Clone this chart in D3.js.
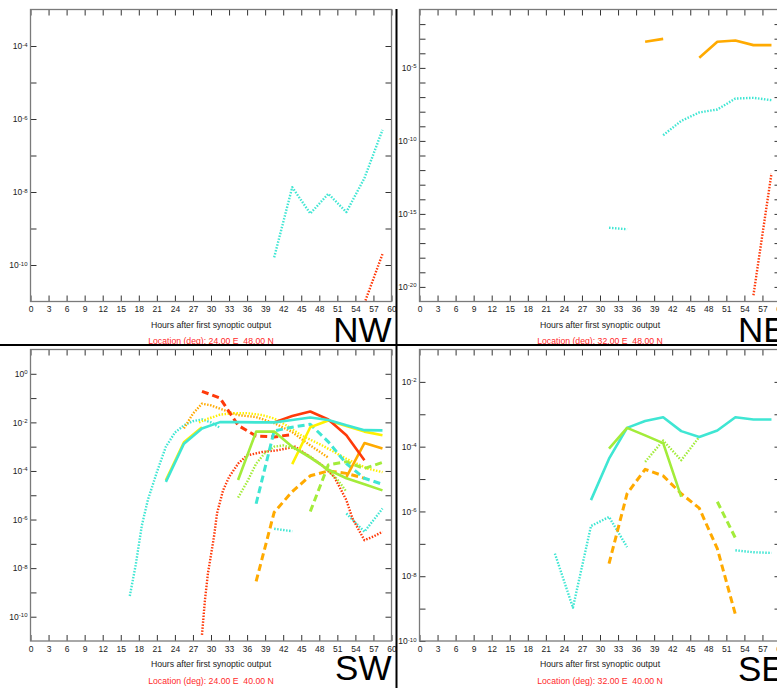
<!DOCTYPE html>
<html><head><meta charset="utf-8">
<script src="https://cdn.jsdelivr.net/npm/d3@7/dist/d3.min.js"></script>
<style>body{margin:0;background:#fff}svg{display:block}</style>
</head><body>
<svg id="chart" width="777" height="688"></svg>
<script>
// ---------- colours ----------
const CYAN = '#3fe6d3', YGREEN = '#a3ec3a', YELLOW = '#fff000', ORANGE = '#ffaa00', RED = '#ff3a0a';

// ---------- tick labels ----------
const xTickLabels = [0,3,6,9,12,15,18,21,24,27,30,33,36,39,42,45,48,51,54,57,60];
const nwYLabelExp = [-4,-6,-8,-10];
const neYLabelExp = [-5,-10,-15,-20];
const swYLabelExp = [0,-2,-4,-6,-8,-10];
const seYLabelExp = [-2,-4,-6,-8,-10];
const xTitle = 'Hours after first synoptic output';

// ---------- data: [hour, log10(value)] ----------
// NW
const nwCyanDotted = [[40.5,-9.79],[43.5,-7.87],[46.5,-8.59],[49.5,-8.05],[52.5,-8.55],[55.5,-7.62],[58.5,-6.30]];
const nwRedDotted = [[55.5,-11.05],[58.5,-9.70]];
// NE
const neOrangeSolidA = [[37.5,-3.21],[40.5,-3.01]];
const neOrangeSolidB = [[46.5,-4.31],[49.5,-3.21],[52.5,-3.12],[55.5,-3.44],[58.5,-3.44]];
const neCyanDottedA = [[31.5,-15.95],[34.5,-16.05]];
const neCyanDottedB = [[40.5,-9.61],[43.5,-8.63],[46.5,-8.05],[49.5,-7.85],[52.5,-7.10],[55.5,-7.05],[58.5,-7.21]];
const neRedDotted = [[55.5,-20.57],[58.5,-12.23]];
// SW
const swCyanDottedA = [[16.5,-9.15],[17.5,-7.85],[18.5,-6.25],[19.5,-5.2],[21,-4.05],[22.5,-3.0],[24,-2.42],[25.5,-2.12],[27,-1.95],[28.5,-1.88],[30,-2.0],[31.5,-2.22]];
const swCyanDottedB = [[40.5,-6.38],[43.5,-6.48]];
const swCyanDottedC = [[52.5,-5.75],[55.5,-6.5],[58.5,-5.55]];
const swRedDotted = [[28.5,-10.75],[29,-9.3],[29.5,-8.2],[30,-7.45],[30.5,-6.7],[31,-5.75],[32,-4.8],[33,-4.25],[34.5,-3.7],[36,-3.36],[38.5,-3.22],[41,-3.15],[44,-3.0],[46,-3.35],[48.5,-3.77],[50.5,-4.25],[52.5,-5.2],[53.5,-5.95],[55.5,-6.85],[57,-6.7],[58.5,-6.5]];
const swOrangeDotted = [[25.5,-2.25],[27,-1.64],[28.5,-1.23],[30,-1.3],[31.5,-1.44],[33,-1.57],[34.5,-1.7],[37.5,-1.78],[40.5,-2.03],[43.5,-2.4],[46.5,-2.95],[49.5,-3.45]];
const swYellowDotted = [[28,-2.0],[29.5,-1.85],[31.5,-1.68],[33.5,-1.63],[36,-1.62],[38.5,-1.7],[40.5,-1.84],[42.5,-2.12],[45,-2.53],[48.5,-2.95],[52.5,-3.5],[56,-3.9],[58.5,-4.05]];
const swYGreenDotted = [[34.5,-5.1],[36,-4.45],[37.5,-3.7],[39,-3.25],[40.5,-3.0],[42,-2.95],[43.5,-3.05],[45,-3.2],[46.5,-3.4],[48,-3.68],[49.5,-4.0],[51,-4.35],[52.5,-4.85]];
const swRedDashed = [[28.5,-0.72],[31.5,-1.0],[34.5,-2.12],[37.5,-2.56],[40.5,-2.6],[43.5,-2.5]];
const swOrangeDashed = [[37.5,-8.55],[40.5,-5.7],[43.5,-4.85],[46.5,-4.2],[49.5,-4.0],[52.5,-4.1],[55.5,-4.3]];
const swYGreenDashed = [[46.5,-5.67],[49.5,-3.75],[52.5,-3.62],[55.5,-3.9],[58.5,-3.65]];
const swCyanDashed = [[37.5,-5.35],[40.5,-2.35],[43.5,-2.2],[46.5,-2.08],[49.5,-2.8],[52.5,-3.7],[55.5,-4.3],[58.5,-4.55]];
const swRedSolid = [[40.5,-2.0],[43.5,-1.74],[46.5,-1.55],[49.5,-1.88],[52.5,-2.53],[55.5,-3.56]];
const swOrangeSolid = [[52.5,-4.25],[55.5,-2.85],[58.5,-3.08]];
const swYellowSolidA = [[22.5,-4.38],[25.5,-2.82],[28.5,-2.2]];
const swYellowSolidB = [[43.5,-3.72],[46.5,-2.2],[49.5,-1.92],[52.5,-2.15],[55.5,-2.38],[58.5,-2.53]];
const swYGreenSolid = [[34.5,-4.37],[37.5,-2.38],[40.5,-2.38],[43.5,-3.0],[46.5,-3.45],[49.5,-3.95],[52.5,-4.3],[55.5,-4.55],[58.5,-4.8]];
const swCyanSolid = [[22.5,-4.45],[25.5,-2.88],[28.5,-2.25],[31.5,-1.99],[34.5,-1.99],[37.5,-2.0],[40.5,-2.0],[43.5,-1.9],[46.5,-1.8],[49.5,-1.9],[52.5,-2.12],[55.5,-2.32],[58.5,-2.33]];
// SE
const seCyanDottedA = [[22.5,-7.30],[25.5,-8.97],[28.5,-6.45],[31.5,-6.17],[34.5,-7.1]];
const seCyanDottedB = [[52.5,-7.2],[55.5,-7.26],[58.5,-7.28]];
const seYGreenDotted = [[37.5,-4.47],[40.5,-3.81],[43.5,-4.42],[46.5,-3.70]];
const seOrangeDashed = [[31.5,-7.61],[34.5,-5.45],[37.5,-4.7],[40.5,-4.9],[43.5,-5.45],[46.5,-5.9],[49.5,-7.15],[52.5,-9.18]];
const seYGreenDashed = [[49.5,-5.70],[52.5,-6.82]];
const seCyanSolid = [[28.5,-5.65],[31.5,-4.37],[34.5,-3.42],[37.5,-3.21],[40.5,-3.09],[43.5,-3.52],[46.5,-3.70],[49.5,-3.50],[52.5,-3.09],[55.5,-3.16],[58.5,-3.16]];
const seYGreenSolid = [[31.5,-4.06],[34.5,-3.42],[37.5,-3.65],[40.5,-3.89],[43.5,-5.55]];

// ---------- panels ----------
const panels = [
  {id:'nw', tag:'NW', left:30.5, top:9.5, bottom:301.5, yMin:-11, yMax:-3, labels:nwYLabelExp,
   loc:'Location (deg): 24.00 E  48.00 N', tagX:391.5, tagY:341.5, tagAnchor:'end',
   series:[[nwCyanDotted,CYAN,'dot'],[nwRedDotted,RED,'dot']]},
  {id:'ne', tag:'NE', left:419.5, top:9.5, bottom:301.5, yMin:-21, yMax:-1, labels:neYLabelExp,
   loc:'Location (deg): 32.00 E  48.00 N', tagX:738, tagY:341.5, tagAnchor:'start',
   series:[[neCyanDottedA,CYAN,'dot'],[neCyanDottedB,CYAN,'dot'],[neRedDotted,RED,'dot'],
           [neOrangeSolidA,ORANGE,'solid'],[neOrangeSolidB,ORANGE,'solid']]},
  {id:'sw', tag:'SW', left:30.5, top:349.5, bottom:641, yMin:-11, yMax:1, labels:swYLabelExp,
   loc:'Location (deg): 24.00 E  40.00 N', tagX:391.5, tagY:679.5, tagAnchor:'end',
   series:[[swCyanDottedA,CYAN,'dot'],[swCyanDottedB,CYAN,'dot'],[swCyanDottedC,CYAN,'dot'],
           [swRedDotted,RED,'dot'],[swOrangeDotted,ORANGE,'dot'],[swYellowDotted,YELLOW,'dot'],[swYGreenDotted,YGREEN,'dot'],
           [swRedDashed,RED,'dash'],[swOrangeDashed,ORANGE,'dash'],[swYGreenDashed,YGREEN,'dash'],[swCyanDashed,CYAN,'dash'],
           [swYellowSolidA,YELLOW,'solid'],[swYellowSolidB,YELLOW,'solid'],[swOrangeSolid,ORANGE,'solid'],
           [swYGreenSolid,YGREEN,'solid'],[swRedSolid,RED,'solid'],[swCyanSolid,CYAN,'solid']]},
  {id:'se', tag:'SE', left:419.5, top:349.5, bottom:641, yMin:-10, yMax:-1, labels:seYLabelExp,
   loc:'Location (deg): 32.00 E  40.00 N', tagX:738, tagY:681, tagAnchor:'start',
   series:[[seCyanDottedA,CYAN,'dot'],[seCyanDottedB,CYAN,'dot'],[seYGreenDotted,YGREEN,'dot'],
           [seOrangeDashed,ORANGE,'dash'],[seYGreenDashed,YGREEN,'dash'],
           [seCyanSolid,CYAN,'solid'],[seYGreenSolid,YGREEN,'solid']]}
];

const W = 361;
const FONT = "'Liberation Sans', Arial, sans-serif";
const svg = d3.select('#chart');
svg.append('rect').attr('width',777).attr('height',688).attr('fill','#fff');

const styles = {
  solid:{w:2.6, dash:null},
  dash:{w:3, dash:'7,4'},
  dot:{w:2.4, dash:'1.5,1.5'}
};

panels.forEach(p => {
  const right = p.left + W;
  const g = svg.append('g');
  const x = d3.scaleLinear().domain([0,60]).range([p.left, right]);
  const y = d3.scaleLog().domain([Math.pow(10,p.yMin), Math.pow(10,p.yMax)]).range([p.bottom, p.top]);

  g.append('clipPath').attr('id','clip-'+p.id)
    .append('rect').attr('x',p.left).attr('y',p.top).attr('width',W).attr('height',p.bottom-p.top);

  const line = d3.line().x(d => x(d[0])).y(d => y(Math.pow(10,d[1])));
  const plot = g.append('g').attr('clip-path','url(#clip-'+p.id+')');
  p.series.forEach(([data,color,st]) => {
    const s = styles[st];
    plot.append('path').datum(data).attr('d',line)
      .attr('fill','none').attr('stroke',color).attr('stroke-width',s.w)
      .attr('stroke-dasharray',s.dash).attr('stroke-linejoin','round');
  });

  const decades = d3.range(p.yMin+1, p.yMax).map(e => Math.pow(10,e));

  const styleAxis = sel => {
    sel.select('.domain').remove();
    sel.selectAll('.tick line').attr('stroke','#333');
    sel.attr('font-family',FONT).attr('font-size',8.5);
    sel.selectAll('text').attr('fill','#222');
  };

  g.append('g').attr('transform',`translate(0,${p.bottom})`)
    .call(d3.axisBottom(x).tickValues(xTickLabels).tickSizeInner(-6).tickSizeOuter(0).tickPadding(4.5))
    .call(styleAxis);
  g.append('g').attr('transform',`translate(0,${p.top})`)
    .call(d3.axisTop(x).tickValues(xTickLabels).tickSizeInner(-6).tickSizeOuter(0).tickFormat(''))
    .call(styleAxis);
  g.append('g').attr('transform',`translate(${right},0)`)
    .call(d3.axisRight(y).tickValues(decades).tickSizeInner(-6).tickSizeOuter(0).tickFormat(''))
    .call(styleAxis);
  const yAx = g.append('g').attr('transform',`translate(${p.left},0)`)
    .call(d3.axisLeft(y).tickValues(decades.concat(p.labels.filter(e=>e===p.yMin).map(e=>Math.pow(10,e))))
      .tickSizeInner(-6).tickSizeOuter(0).tickPadding(3).tickFormat(''))
    .call(styleAxis);
  yAx.selectAll('.tick').each(function(d){
    const e = Math.round(Math.log10(d));
    const t = d3.select(this).select('text');
    if (p.labels.indexOf(e) < 0) return;
    t.text('10');
    t.append('tspan').attr('dy','-0.45em').attr('font-size',6).text(e===0 ? '0' : '-' + Math.abs(e));
  });

  g.append('rect').attr('x',p.left).attr('y',p.top).attr('width',W).attr('height',p.bottom-p.top)
    .attr('fill','none').attr('stroke','#7a7a7a').attr('stroke-width',1.3);

  const cx = (p.left + right)/2;
  g.append('text').attr('x',cx).attr('y',p.bottom+26).attr('text-anchor','middle')
    .attr('font-family',FONT).attr('font-size',8.7).attr('fill','#222').text(xTitle);
  g.append('text').attr('x',cx).attr('y',p.bottom+42.5).attr('text-anchor','middle')
    .attr('font-family',FONT).attr('font-size',8.7).attr('fill','#ff2a2a')
    .style('white-space','pre').text(p.loc);
  g.append('text').attr('x',p.tagX).attr('y',p.tagY).attr('text-anchor',p.tagAnchor)
    .attr('font-family',FONT).attr('font-size',35).attr('fill','#000').text(p.tag);
});

svg.append('line').attr('x1',0).attr('x2',777).attr('y1',345).attr('y2',345)
  .attr('stroke','#000').attr('stroke-width',2);
svg.append('line').attr('x1',396.5).attr('x2',396.5).attr('y1',9).attr('y2',688)
  .attr('stroke','#000').attr('stroke-width',2);
</script>
</body></html>
